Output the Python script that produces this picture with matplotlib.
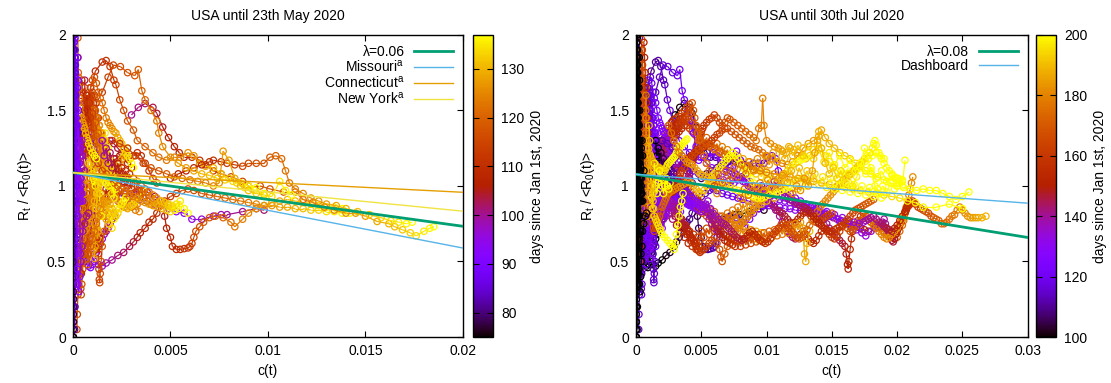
import numpy as np
import matplotlib
matplotlib.use("Agg")
import matplotlib.pyplot as plt
from matplotlib.collections import LineCollection
from matplotlib.colors import Normalize
from matplotlib.cm import ScalarMappable

plt.rcParams["font.family"] = ["Liberation Sans", "DejaVu Sans"]
plt.rcParams["mathtext.fontset"] = "custom"
plt.rcParams["mathtext.rm"] = "Liberation Sans"

# ---------------------------------------------------------------------------
# data: state trajectories (c(t), R_t/<R0>), one point per day.
# each state: (last day shown in the May panel, points up to that day,
#              continuation points up to end of July)
# ---------------------------------------------------------------------------
band_a = [(0.00001, 0.0), (0.00001, 0.05), (0.00002, 0.15), (0.00002, 0.3), (0.00003, 0.5),
          (0.00003, 0.8), (0.00004, 1.1), (0.00004, 1.4), (0.00005, 1.7), (0.00005, 1.95),
          (0.00006, 1.8), (0.00007, 1.6), (0.00008, 1.45), (0.0001, 1.3), (0.00012, 1.2)]
band_b = [(0.00002, 0.0), (0.00002, 0.1), (0.00003, 0.2), (0.00003, 0.35), (0.00004, 0.6),
          (0.00005, 0.9), (0.00006, 1.25), (0.00007, 1.6), (0.00008, 1.9), (0.00009, 2.0),
          (0.00011, 1.85), (0.00013, 1.65), (0.00015, 1.5), (0.00018, 1.35), (0.0002, 1.25),
          (0.00023, 1.15), (0.00026, 1.1)]
band_c = [(0.00001, 0.2), (0.00002, 0.4), (0.00003, 0.7), (0.00004, 1.0), (0.00005, 1.3),
          (0.00006, 1.55), (0.00007, 1.75), (0.00008, 1.9), (0.0001, 1.98), (0.00012, 1.8),
          (0.00014, 1.6), (0.00016, 1.45), (0.00019, 1.3), (0.00022, 1.2), (0.00026, 1.1),
          (0.0003, 1.02), (0.00035, 0.95), (0.0004, 0.9)]
band_d = [(0.00003, 1.9), (0.00004, 1.75), (0.00005, 1.6), (0.00006, 1.45), (0.00007, 1.3),
          (0.00008, 1.15), (0.00009, 1.0), (0.0001, 0.85), (0.00011, 0.7), (0.00012, 0.55),
          (0.00013, 0.42), (0.00015, 0.35), (0.00017, 0.42), (0.0002, 0.55), (0.00023, 0.68),
          (0.00026, 0.8), (0.0003, 0.9), (0.00035, 0.98), (0.0004, 1.05)]
band_e = [(0.00002, 1.5), (0.00003, 1.65), (0.00004, 1.8), (0.00005, 1.95), (0.00007, 1.85),
          (0.00009, 1.7), (0.00011, 1.55), (0.00013, 1.42), (0.00015, 1.3), (0.00018, 1.2),
          (0.00021, 1.12), (0.00025, 1.05), (0.0003, 1.0), (0.00035, 0.97), (0.0004, 0.95)]
band_f = [(0.00008, 0.05), (0.0001, 0.2), (0.00012, 0.4), (0.00014, 0.65), (0.00016, 0.9),
          (0.00018, 1.15), (0.0002, 1.4), (0.00022, 1.65), (0.00024, 1.85), (0.00026, 1.7),
          (0.00028, 1.5), (0.0003, 1.3), (0.00032, 1.1), (0.00034, 0.9), (0.00036, 0.7),
          (0.00038, 0.55)]
early_f = [(0.00001, 0.0), (0.00001, 0.3), (0.00002, 0.6), (0.00002, 1.2), (0.00003, 1.9),
           (0.00004, 2.0), (0.00005, 1.7), (0.00006, 1.5), (0.00008, 1.3), (0.0001, 1.8),
           (0.00012, 1.6), (0.00014, 1.4), (0.00016, 1.2), (0.00018, 1.0), (0.0002, 0.9),
           (0.00022, 1.1)]
early_g = [(0.00002, 0.1), (0.00003, 0.25), (0.00004, 0.45), (0.00005, 0.8), (0.00006, 1.0),
           (0.00007, 1.35), (0.00008, 1.6), (0.0001, 1.9), (0.00012, 1.75), (0.00015, 1.55),
           (0.00018, 1.35), (0.00022, 1.25), (0.00026, 1.15), (0.0003, 1.1), (0.00035, 1.05),
           (0.0004, 1.0), (0.00045, 0.95), (0.0005, 0.9)]
early_h = [(0.00001, 0.5), (0.00002, 0.7), (0.00003, 0.9), (0.00004, 1.1), (0.00005, 1.3),
           (0.00006, 1.5), (0.00007, 1.7), (0.00008, 1.85), (0.0001, 1.7), (0.00012, 1.5),
           (0.00015, 1.3), (0.00018, 1.2), (0.0002, 1.3), (0.00025, 1.4), (0.0003, 1.3),
           (0.00035, 1.2), (0.0004, 1.25), (0.00045, 1.3), (0.0005, 1.2), (0.0006, 1.1)]
early_i = [(0.00005, 2.0), (0.00007, 1.8), (0.0001, 1.6), (0.00012, 1.4), (0.00014, 1.2),
           (0.00016, 1.0), (0.00018, 0.8), (0.0002, 0.6), (0.00022, 0.45), (0.00025, 0.35),
           (0.0003, 0.3), (0.00035, 0.4), (0.0004, 0.5), (0.00045, 0.6), (0.0005, 0.7),
           (0.0006, 0.75), (0.0007, 0.8), (0.0008, 0.82)]
purple_flat = [(0.0010, 1.10), (0.0014, 1.05), (0.0018, 1.00), (0.0022, 0.98), (0.0026, 0.95),
               (0.0030, 0.93), (0.0034, 0.91), (0.0038, 0.90), (0.0042, 0.88), (0.0045, 0.87),
               (0.0049, 0.85), (0.0053, 0.83), (0.0057, 0.82), (0.0061, 0.78), (0.0066, 0.78),
               (0.0072, 0.80), (0.0076, 0.81), (0.0079, 0.81), (0.0087, 0.83), (0.0094, 0.85),
               (0.0098, 0.84)]
purple_mid = [(0.0003, 1.3), (0.0004, 1.35), (0.0005, 1.38), (0.0006, 1.4), (0.0007, 1.38),
              (0.0008, 1.35), (0.0009, 1.32), (0.001, 1.3), (0.0011, 1.28), (0.0012, 1.25),
              (0.0013, 1.22), (0.0014, 1.2), (0.0016, 1.18), (0.0018, 1.16), (0.002, 1.15),
              (0.0022, 1.18), (0.0024, 1.2), (0.0026, 1.18), (0.0028, 1.15), (0.003, 1.12)]
purple_low = [(0.0002, 0.9), (0.0003, 0.8), (0.0004, 0.7), (0.0005, 0.62), (0.0006, 0.55),
              (0.0007, 0.5), (0.0008, 0.47), (0.0009, 0.46), (0.001, 0.48), (0.0011, 0.52),
              (0.0012, 0.56), (0.0013, 0.6), (0.0014, 0.62), (0.0015, 0.65), (0.0016, 0.68),
              (0.0017, 0.7), (0.0018, 0.72), (0.0019, 0.75), (0.002, 0.78), (0.0021, 0.8)]
purple_hump = [(0.0005, 1.0), (0.0007, 1.05), (0.0009, 1.1), (0.0011, 1.15), (0.0013, 1.2),
               (0.0015, 1.25), (0.0017, 1.28), (0.0019, 1.3), (0.0021, 1.28), (0.0023, 1.25),
               (0.0025, 1.22), (0.0027, 1.2), (0.0029, 1.18), (0.0031, 1.2), (0.0033, 1.22),
               (0.0035, 1.2), (0.0037, 1.15), (0.0039, 1.1), (0.0041, 1.05), (0.0043, 1.02)]
purple_zig = [(0.0001, 1.4), (0.00013, 1.2), (0.00016, 1.35), (0.0002, 1.1), (0.00024, 1.25),
              (0.00028, 1.0), (0.00032, 1.15), (0.00036, 0.9), (0.0004, 1.05), (0.00044, 0.85),
              (0.00048, 0.98), (0.00052, 0.8), (0.00056, 0.92), (0.0006, 0.75), (0.00065, 0.88),
              (0.0007, 0.7), (0.00075, 0.82), (0.0008, 0.68), (0.00085, 0.78), (0.0009, 0.65),
              (0.00095, 0.75), (0.001, 0.62), (0.00105, 0.72), (0.0011, 0.6), (0.00115, 0.7),
              (0.0012, 0.58), (0.00125, 0.68), (0.0013, 0.6), (0.00135, 0.66), (0.0014, 0.62)]
purple_upper = [(0.0002, 1.45), (0.00025, 1.35), (0.0003, 1.42), (0.0004, 1.3), (0.0005, 1.38),
                (0.0006, 1.25), (0.0007, 1.32), (0.0008, 1.2), (0.0009, 1.28), (0.001, 1.18),
                (0.0011, 1.25), (0.0012, 1.15), (0.0013, 1.22), (0.0014, 1.12), (0.0015, 1.2),
                (0.0016, 1.1), (0.0017, 1.18), (0.0018, 1.08), (0.0019, 1.15), (0.002, 1.06),
                (0.0021, 1.12), (0.0022, 1.05), (0.0023, 1.1), (0.0024, 1.04), (0.0025, 1.08),
                (0.0026, 1.03), (0.0027, 1.06), (0.0028, 1.02)]

new_york = [(0.0030, 1.47), (0.00335, 1.52), (0.0037, 1.545), (0.0041, 1.52), (0.0043, 1.48),
            (0.0046, 1.39), (0.0049, 1.32), (0.0052, 1.26), (0.00545, 1.22), (0.0057, 1.19),
            (0.0061, 1.19), (0.0065, 1.17), (0.0068, 1.14), (0.0072, 1.10), (0.0076, 1.08),
            (0.0081, 1.06), (0.0087, 1.03), (0.0090, 1.00), (0.0096, 1.00), (0.0101, 0.98),
            (0.0108, 0.96), (0.0114, 0.96), (0.0118, 0.91), (0.0123, 0.89), (0.0129, 0.86),
            (0.0134, 0.84), (0.0140, 0.82), (0.0145, 0.82), (0.0150, 0.80), (0.0156, 0.765),
            (0.0162, 0.75), (0.0165, 0.73), (0.0169, 0.71), (0.0173, 0.69), (0.0176, 0.67),
            (0.0180, 0.70), (0.0183, 0.72), (0.0185, 0.73)]
new_york_jul = [(0.0187, 0.74), (0.0189, 0.76), (0.019, 0.78), (0.0191, 0.75), (0.0192, 0.72),
                (0.0193, 0.70), (0.0194, 0.68), (0.0195, 0.66), (0.0196, 0.64), (0.0197, 0.63),
                (0.0198, 0.65), (0.0199, 0.68), (0.02, 0.70), (0.0201, 0.72), (0.0202, 0.74),
                (0.0203, 0.76), (0.0204, 0.78), (0.0205, 0.80), (0.0206, 0.82), (0.0207, 0.84),
                (0.0208, 0.86), (0.0209, 0.87), (0.021, 0.88), (0.0211, 0.89), (0.0212, 0.90),
                (0.0214, 0.88), (0.0216, 0.86), (0.0218, 0.85), (0.022, 0.84), (0.0222, 0.83),
                (0.0224, 0.82), (0.0226, 0.80), (0.0228, 0.79), (0.023, 0.78), (0.0232, 0.77),
                (0.0234, 0.75), (0.0236, 0.75), (0.0238, 0.76), (0.024, 0.78), (0.0242, 0.80),
                (0.0244, 0.81), (0.0246, 0.84), (0.0248, 0.86), (0.025, 0.84), (0.0252, 0.82),
                (0.0254, 0.80), (0.0256, 0.79), (0.0258, 0.79), (0.026, 0.79), (0.0262, 0.79),
                (0.0265, 0.79), (0.0268, 0.80)]
peak_red = [(0.0009, 1.65), (0.00115, 1.76), (0.0015, 1.82), (0.0017, 1.83), (0.0019, 1.79),
            (0.0021, 1.70), (0.0022, 1.67), (0.0024, 1.57), (0.0026, 1.50), (0.0028, 1.43),
            (0.0031, 1.37), (0.0033, 1.30), (0.0037, 1.26), (0.0041, 1.22), (0.0044, 1.19),
            (0.0048, 1.17), (0.0052, 1.19), (0.0055, 1.19), (0.0059, 1.22), (0.0062, 1.20),
            (0.0065, 1.15), (0.0068, 1.13), (0.0072, 1.12), (0.0076, 1.08), (0.0080, 1.05),
            (0.0084, 1.02), (0.0088, 0.99), (0.0093, 0.97), (0.0098, 0.95)]
peak_red_jul = [(0.0101, 0.92), (0.0104, 0.88), (0.0107, 0.84), (0.011, 0.80), (0.0112, 0.76),
                (0.0114, 0.72), (0.0116, 0.70), (0.0118, 0.68), (0.012, 0.66), (0.0122, 0.65),
                (0.0124, 0.66), (0.0126, 0.68), (0.0128, 0.70), (0.013, 0.68), (0.0132, 0.65),
                (0.0134, 0.63), (0.0136, 0.62), (0.0138, 0.64), (0.014, 0.67), (0.0142, 0.70),
                (0.0144, 0.72), (0.0146, 0.70), (0.0148, 0.68), (0.015, 0.66), (0.0152, 0.65),
                (0.0154, 0.67), (0.0156, 0.70), (0.0158, 0.73), (0.016, 0.75), (0.0162, 0.72),
                (0.0164, 0.70), (0.0166, 0.71), (0.0168, 0.73), (0.017, 0.75), (0.0172, 0.77),
                (0.0174, 0.79), (0.0176, 0.80), (0.0178, 0.78), (0.018, 0.76), (0.0182, 0.74),
                (0.0184, 0.72), (0.0186, 0.70), (0.0188, 0.68), (0.019, 0.66), (0.0192, 0.65),
                (0.0194, 0.66), (0.0196, 0.68), (0.0198, 0.70), (0.02, 0.72), (0.0202, 0.75),
                (0.0204, 0.78), (0.0205, 0.80)]
peak_orange = [(0.0012, 1.55), (0.0015, 1.62), (0.0018, 1.72), (0.00207, 1.80), (0.00243, 1.79),
               (0.0028, 1.75), (0.00317, 1.73), (0.00335, 1.77), (0.00353, 1.63), (0.0037, 1.57),
               (0.0040, 1.50), (0.0043, 1.43), (0.0044, 1.35), (0.0046, 1.26), (0.0050, 1.19),
               (0.0054, 1.15), (0.0058, 1.12), (0.0062, 1.10), (0.0066, 1.08), (0.0070, 1.07),
               (0.0074, 1.05), (0.0078, 1.04), (0.0082, 1.03), (0.0086, 1.02), (0.0090, 1.00),
               (0.0094, 0.99)]
peak_orange_jul = [(0.0096, 0.97), (0.0098, 0.95), (0.01, 0.93), (0.0102, 0.9), (0.0104, 0.88),
                   (0.0106, 0.86), (0.0108, 0.84), (0.011, 0.83), (0.0112, 0.82), (0.0114, 0.80),
                   (0.0116, 0.78), (0.0118, 0.76), (0.012, 0.75), (0.0122, 0.76), (0.0124, 0.78),
                   (0.0126, 0.80), (0.0128, 0.82), (0.013, 0.83), (0.0132, 0.82), (0.0134, 0.80),
                   (0.0136, 0.78), (0.0138, 0.76), (0.014, 0.75), (0.0142, 0.77), (0.0144, 0.79),
                   (0.0146, 0.8), (0.0148, 0.81), (0.015, 0.82)]
bump = [(0.0050, 1.05), (0.0054, 1.08), (0.0058, 1.10), (0.0062, 1.12), (0.0066, 1.14),
        (0.0070, 1.16), (0.0072, 1.17), (0.0076, 1.16), (0.0079, 1.15), (0.0083, 1.14),
        (0.0087, 1.13), (0.0090, 1.15), (0.0094, 1.15), (0.0098, 1.15), (0.0101, 1.19),
        (0.0104, 1.20), (0.0107, 1.18), (0.0109, 1.10), (0.0111, 1.02), (0.0114, 0.98),
        (0.0118, 0.95), (0.0122, 0.92), (0.0126, 0.90), (0.0130, 0.88), (0.0135, 0.87),
        (0.0140, 0.85), (0.0146, 0.83), (0.0152, 0.81), (0.0158, 0.79), (0.0163, 0.77),
        (0.0167, 0.76), (0.0171, 0.75), (0.0174, 0.76)]
bump_jul = [(0.0176, 0.77), (0.0178, 0.78), (0.018, 0.79), (0.0182, 0.8), (0.0184, 0.78),
            (0.0186, 0.76), (0.0188, 0.75), (0.019, 0.73), (0.0192, 0.72), (0.0194, 0.71),
            (0.0196, 0.70), (0.0198, 0.72), (0.02, 0.74), (0.0202, 0.77), (0.0204, 0.8),
            (0.0206, 0.83), (0.0207, 0.85), (0.0208, 0.87), (0.0209, 0.89)]
rising = [(0.0009, 0.55), (0.0011, 0.50), (0.0013, 0.48), (0.0015, 0.47), (0.0017, 0.49),
          (0.0020, 0.51), (0.0023, 0.54), (0.0026, 0.56), (0.0029, 0.60), (0.0031, 0.63),
          (0.0033, 0.66), (0.00345, 0.69), (0.0037, 0.72), (0.0039, 0.76), (0.0041, 0.78),
          (0.0043, 0.82), (0.0045, 0.87), (0.0047, 0.90), (0.0050, 0.93), (0.0053, 0.95),
          (0.0056, 0.97), (0.0059, 0.98), (0.0062, 0.97), (0.0066, 0.95), (0.0070, 0.94),
          (0.0074, 0.93), (0.0078, 0.92), (0.0082, 0.91), (0.0086, 0.90), (0.0090, 0.89),
          (0.0094, 0.88), (0.0098, 0.87), (0.0102, 0.87), (0.0106, 0.86), (0.0110, 0.86),
          (0.0114, 0.85), (0.0118, 0.85), (0.0122, 0.84), (0.0126, 0.84), (0.0130, 0.83),
          (0.0134, 0.83), (0.0138, 0.82), (0.0142, 0.82)]
rising_jul = [(0.0145, 0.81), (0.0148, 0.80), (0.0151, 0.79), (0.0154, 0.78), (0.0157, 0.77),
              (0.016, 0.76), (0.0163, 0.75), (0.0166, 0.74), (0.0169, 0.73), (0.0172, 0.72),
              (0.0175, 0.71), (0.0178, 0.70)]
u_dip = [(0.0030, 0.95), (0.0034, 0.97), (0.0038, 0.96), (0.0042, 0.93), (0.0046, 0.88),
         (0.0047, 0.80), (0.0048, 0.72), (0.0050, 0.66), (0.0051, 0.60), (0.0053, 0.58),
         (0.0055, 0.58), (0.0057, 0.585), (0.0059, 0.59), (0.0060, 0.60), (0.0061, 0.62),
         (0.0062, 0.66), (0.0063, 0.70), (0.0065, 0.73), (0.0067, 0.76), (0.0070, 0.79),
         (0.0073, 0.80), (0.0077, 0.79), (0.0081, 0.76), (0.0083, 0.73), (0.0087, 0.78),
         (0.0090, 0.82), (0.0094, 0.85), (0.0098, 0.87), (0.0102, 0.89), (0.0106, 0.90),
         (0.0110, 0.91), (0.0114, 0.90), (0.0118, 0.89), (0.0122, 0.88), (0.0126, 0.87),
         (0.0130, 0.86), (0.0134, 0.86), (0.0138, 0.85)]
u_dip_jul = [(0.014, 0.83), (0.0142, 0.8), (0.0144, 0.78), (0.0146, 0.75), (0.0148, 0.72),
             (0.015, 0.7), (0.0152, 0.68), (0.0154, 0.66), (0.0156, 0.64), (0.0158, 0.62),
             (0.016, 0.6), (0.0161, 0.55), (0.0162, 0.48), (0.01625, 0.45), (0.0163, 0.5),
             (0.0164, 0.58), (0.0165, 0.65), (0.0166, 0.7), (0.0168, 0.74), (0.017, 0.77),
             (0.0172, 0.8), (0.0174, 0.82), (0.0176, 0.80), (0.0178, 0.78), (0.018, 0.76),
             (0.0182, 0.75), (0.0184, 0.74), (0.0186, 0.73), (0.0188, 0.72), (0.019, 0.7),
             (0.0192, 0.68), (0.0194, 0.67), (0.0196, 0.66), (0.0198, 0.65), (0.02, 0.66),
             (0.0202, 0.70), (0.0204, 0.74), (0.0205, 0.77), (0.0206, 0.82), (0.0207, 0.86),
             (0.0208, 0.9), (0.0209, 0.94), (0.021, 0.98), (0.0211, 1.02), (0.0212, 1.06)]
yellow_low = [(0.0005, 1.20), (0.0007, 1.25), (0.0009, 1.22), (0.0011, 1.18), (0.0013, 1.15),
              (0.0015, 1.10), (0.0017, 1.08), (0.0019, 1.05), (0.0021, 1.02), (0.0023, 1.00),
              (0.0025, 0.98), (0.0027, 0.97), (0.0029, 0.95), (0.0031, 0.93), (0.0033, 0.92),
              (0.0035, 0.90), (0.0037, 0.89), (0.0039, 0.88), (0.0041, 0.87), (0.0043, 0.88),
              (0.0045, 0.90), (0.0047, 0.89), (0.0049, 0.87), (0.0051, 0.86), (0.0053, 0.88),
              (0.0055, 0.90), (0.0057, 0.85), (0.0059, 0.82)]
yellow_low_jul = [(0.0061, 0.8), (0.0063, 0.78), (0.0065, 0.76), (0.0067, 0.75), (0.0069, 0.74),
                  (0.0071, 0.72), (0.0073, 0.70), (0.0075, 0.68), (0.0077, 0.66), (0.0079, 0.65),
                  (0.0081, 0.64), (0.0083, 0.65), (0.0085, 0.67), (0.0087, 0.69), (0.0089, 0.7),
                  (0.0091, 0.68), (0.0093, 0.66), (0.0095, 0.64), (0.0097, 0.63), (0.0099, 0.62),
                  (0.0101, 0.63), (0.0103, 0.65), (0.0105, 0.68), (0.0107, 0.70), (0.0109, 0.72),
                  (0.0111, 0.74), (0.0113, 0.75), (0.0115, 0.74), (0.0117, 0.72), (0.0119, 0.70),
                  (0.0121, 0.68), (0.0123, 0.66), (0.0125, 0.65), (0.0127, 0.66), (0.0129, 0.68),
                  (0.0131, 0.71), (0.0133, 0.74), (0.0135, 0.77), (0.0137, 0.80), (0.0139, 0.83),
                  (0.0141, 0.86), (0.0143, 0.88), (0.0145, 0.9), (0.0147, 0.92), (0.0149, 0.94),
                  (0.0151, 0.96), (0.0153, 0.98), (0.0155, 1.0), (0.0157, 1.02), (0.0159, 1.04),
                  (0.0161, 1.05), (0.0163, 1.07), (0.0165, 1.08), (0.0167, 1.1), (0.0169, 1.12),
                  (0.0171, 1.14), (0.0173, 1.16), (0.0175, 1.18), (0.0177, 1.2), (0.0179, 1.22),
                  (0.0181, 1.25), (0.0182, 1.28), (0.0183, 1.30), (0.0184, 1.27), (0.0186, 1.22),
                  (0.0188, 1.18), (0.019, 1.15), (0.0192, 1.12), (0.0194, 1.1), (0.0196, 1.08),
                  (0.0198, 1.06), (0.02, 1.05), (0.0202, 1.04), (0.0204, 1.03)]
yellow_spike = [(0.0020, 1.30), (0.0024, 1.28), (0.0028, 1.25), (0.0032, 1.20), (0.0036, 1.15),
                (0.0040, 1.12), (0.0044, 1.10), (0.0048, 1.08), (0.0052, 1.06), (0.0056, 1.05),
                (0.0060, 1.04), (0.0064, 1.03), (0.0068, 1.02), (0.0072, 1.00), (0.0075, 1.02),
                (0.0077, 1.23), (0.0080, 1.17), (0.0083, 1.05), (0.0086, 1.00), (0.0090, 0.97),
                (0.0094, 0.95), (0.0098, 0.94), (0.0102, 0.93), (0.0106, 1.03), (0.0109, 0.97),
                (0.0112, 0.94)]
yellow_spike_jul = [(0.0114, 0.93), (0.0116, 0.92), (0.0118, 0.91), (0.012, 0.9), (0.0122, 0.89),
                    (0.0124, 0.88), (0.0126, 0.87), (0.0128, 0.86), (0.013, 0.85), (0.0132, 0.84),
                    (0.0134, 0.82), (0.0136, 0.80), (0.0138, 0.78), (0.014, 0.76), (0.0142, 0.74),
                    (0.0144, 0.72), (0.0146, 0.71), (0.0148, 0.70), (0.015, 0.70), (0.0152, 0.71),
                    (0.0154, 0.72), (0.0156, 0.73), (0.0158, 0.74), (0.016, 0.76), (0.0162, 0.78),
                    (0.0164, 0.80), (0.0166, 0.82), (0.0168, 0.84), (0.017, 0.85), (0.0172, 0.86),
                    (0.0174, 0.87), (0.0176, 0.88), (0.0178, 0.89), (0.018, 0.90), (0.0182, 0.91)]
late_climb = [(0.0002, 0.05), (0.00022, 0.15), (0.00025, 0.28), (0.00028, 0.35), (0.0003, 0.42),
              (0.00033, 0.5), (0.00036, 0.6), (0.0004, 0.7), (0.00045, 0.8), (0.0005, 0.85),
              (0.00055, 0.9), (0.0006, 0.95), (0.00065, 1.0), (0.0007, 1.05), (0.00075, 1.1),
              (0.0008, 1.15), (0.00085, 1.2), (0.0009, 1.15), (0.00095, 1.1), (0.001, 1.08),
              (0.00105, 1.05), (0.0011, 1.03), (0.00115, 1.0)]
tall_red = [(0.0004, 0.75), (0.0005, 0.9), (0.0006, 1.1), (0.0007, 1.3), (0.0008, 1.45),
            (0.0009, 1.55), (0.001, 1.62), (0.0011, 1.6), (0.0012, 1.55), (0.0013, 1.45),
            (0.0014, 1.35), (0.0015, 1.25), (0.0016, 1.2), (0.0017, 1.15), (0.0018, 1.1),
            (0.0019, 1.05), (0.002, 1.0), (0.0021, 0.95), (0.0022, 0.92), (0.0023, 0.9),
            (0.0024, 0.88), (0.0025, 0.87), (0.0026, 0.86), (0.0027, 0.86), (0.0028, 0.85),
            (0.0029, 0.86), (0.003, 0.87), (0.0031, 0.88), (0.0032, 0.9), (0.0033, 0.92),
            (0.0034, 0.93), (0.0035, 0.95), (0.0036, 0.97)]
tall_red_jul = [(0.0037, 0.98), (0.0038, 1.0), (0.0039, 1.02), (0.0039, 1.04), (0.004, 1.06),
                (0.0041, 1.08), (0.0041, 1.1), (0.0042, 1.12), (0.0043, 1.14), (0.0043, 1.16),
                (0.0044, 1.18), (0.0045, 1.2), (0.0045, 1.22), (0.0046, 1.24), (0.0047, 1.26),
                (0.0047, 1.28), (0.0048, 1.3), (0.0049, 1.32), (0.0049, 1.34), (0.005, 1.36),
                (0.0051, 1.38), (0.0052, 1.4), (0.0054, 1.42), (0.0056, 1.44), (0.0058, 1.45),
                (0.006, 1.47), (0.0062, 1.45), (0.0064, 1.42), (0.0066, 1.4), (0.0068, 1.42),
                (0.007, 1.45), (0.0072, 1.44), (0.0075, 1.42), (0.0078, 1.4), (0.0081, 1.38),
                (0.0084, 1.36), (0.0087, 1.34), (0.009, 1.32), (0.0092, 1.3), (0.0094, 1.38),
                (0.0096, 1.4), (0.0097, 1.58), (0.0098, 1.4), (0.01, 1.3), (0.0103, 1.28),
                (0.0106, 1.26), (0.0109, 1.25), (0.0112, 1.23), (0.0115, 1.22), (0.0118, 1.25),
                (0.0121, 1.24), (0.0124, 1.22), (0.0127, 1.2), (0.013, 1.18), (0.0133, 1.2),
                (0.0136, 1.24), (0.0139, 1.27), (0.0142, 1.25), (0.0145, 1.2), (0.0148, 1.16),
                (0.0151, 1.13), (0.0154, 1.1), (0.0157, 1.08), (0.016, 1.07), (0.0163, 1.08),
                (0.0166, 1.1), (0.0169, 1.12), (0.0172, 1.14), (0.0175, 1.16), (0.0178, 1.18),
                (0.0181, 1.2), (0.0184, 1.22), (0.0187, 1.2), (0.019, 1.18)]
deep_dip = [(0.0008, 1.3), (0.0009, 1.2), (0.001, 1.1), (0.0011, 0.95), (0.0012, 0.8),
            (0.00125, 0.65), (0.0013, 0.55), (0.00133, 0.45), (0.00135, 0.38), (0.00137, 0.36),
            (0.0014, 0.42), (0.00145, 0.5), (0.0015, 0.6), (0.0016, 0.7), (0.0017, 0.8),
            (0.0018, 0.9), (0.0019, 0.95), (0.002, 1.0), (0.0021, 1.05), (0.0022, 1.1),
            (0.0023, 1.12), (0.0024, 1.15), (0.0025, 1.18), (0.0026, 1.2), (0.0027, 1.22),
            (0.0028, 1.25)]
orange_dive = [(0.0003, 1.0), (0.00032, 0.85), (0.00034, 0.7), (0.00036, 0.55), (0.00038, 0.42),
               (0.0004, 0.32), (0.00042, 0.28), (0.00045, 0.35), (0.0005, 0.45), (0.00055, 0.55),
               (0.0006, 0.62), (0.00065, 0.7), (0.0007, 0.78), (0.00075, 0.85), (0.0008, 0.9),
               (0.0009, 0.95), (0.001, 1.0), (0.0011, 1.05), (0.0012, 1.1), (0.0013, 1.12),
               (0.0014, 1.15), (0.0015, 1.13), (0.0016, 1.1), (0.0017, 1.08), (0.0018, 1.06),
               (0.0019, 1.05), (0.002, 1.04), (0.0021, 1.03)]
yellow_top = [(0.00025, 1.98), (0.00026, 1.85), (0.00027, 1.75), (0.00028, 1.72), (0.0003, 1.65),
              (0.00033, 1.58), (0.00036, 1.52), (0.0004, 1.48), (0.00045, 1.45), (0.0005, 1.42),
              (0.00055, 1.40), (0.0006, 1.38), (0.00065, 1.35), (0.0007, 1.32), (0.00075, 1.30),
              (0.0008, 1.28), (0.0009, 1.25), (0.001, 1.22), (0.0011, 1.20), (0.0012, 1.18)]
yellow_top_jul = [(0.0013, 1.15), (0.0014, 1.12), (0.0015, 1.1), (0.0016, 1.08), (0.0017, 1.06),
                  (0.0018, 1.05), (0.0019, 1.04), (0.002, 1.03), (0.0021, 1.02), (0.0022, 1.01),
                  (0.0023, 1.0), (0.0024, 0.99), (0.0025, 0.98), (0.0026, 0.97), (0.0027, 0.96),
                  (0.0028, 0.96), (0.0029, 0.97), (0.003, 0.98), (0.0031, 1.0), (0.0032, 1.02),
                  (0.0033, 1.05), (0.0034, 1.08), (0.0035, 1.1), (0.0037, 1.12), (0.0039, 1.15),
                  (0.0041, 1.18), (0.0043, 1.2), (0.0045, 1.22), (0.0048, 1.24), (0.0051, 1.26),
                  (0.0054, 1.28), (0.0057, 1.27), (0.006, 1.25), (0.0064, 1.23), (0.0068, 1.21),
                  (0.0072, 1.19), (0.0076, 1.17), (0.008, 1.15), (0.0085, 1.13), (0.009, 1.11),
                  (0.0095, 1.1), (0.01, 1.09), (0.0106, 1.08), (0.0112, 1.07), (0.0118, 1.06),
                  (0.0124, 1.05), (0.013, 1.04), (0.0136, 1.03), (0.0142, 1.02), (0.0148, 1.01),
                  (0.0154, 1.0), (0.016, 0.99), (0.0166, 0.98), (0.0172, 0.97), (0.0178, 0.96),
                  (0.0184, 0.95), (0.019, 0.94), (0.0196, 0.93), (0.0202, 0.92), (0.0208, 0.9),
                  (0.0214, 0.89), (0.022, 0.86), (0.023, 0.86), (0.024, 0.88), (0.025, 0.85)]
high_slide = [(0.0006, 1.5), (0.0007, 1.55), (0.0008, 1.6), (0.0009, 1.65), (0.001, 1.7),
              (0.0011, 1.72), (0.0012, 1.68), (0.0013, 1.62), (0.0014, 1.58), (0.0015, 1.55),
              (0.0016, 1.5), (0.0017, 1.45), (0.0018, 1.42), (0.0019, 1.4), (0.002, 1.38),
              (0.0021, 1.36), (0.0022, 1.35), (0.0023, 1.32), (0.0024, 1.3), (0.0025, 1.28),
              (0.0026, 1.25), (0.0027, 1.22), (0.0028, 1.2), (0.0029, 1.18), (0.003, 1.15),
              (0.0031, 1.12)]
high_slide_jul = [(0.0032, 1.12), (0.0033, 1.12), (0.0034, 1.13), (0.0035, 1.14), (0.0036, 1.15),
                  (0.0037, 1.16), (0.0038, 1.17), (0.0039, 1.18), (0.004, 1.18), (0.0041, 1.19),
                  (0.0042, 1.2), (0.0043, 1.2), (0.0044, 1.21), (0.0045, 1.22), (0.0046, 1.22),
                  (0.0047, 1.23), (0.0048, 1.24), (0.0049, 1.24), (0.005, 1.25), (0.0052, 1.26),
                  (0.0054, 1.27), (0.0056, 1.28), (0.0058, 1.3), (0.006, 1.32), (0.0062, 1.34),
                  (0.0064, 1.35), (0.0066, 1.37), (0.0068, 1.38), (0.007, 1.38), (0.0073, 1.36),
                  (0.0076, 1.34), (0.0079, 1.32), (0.0082, 1.3), (0.0085, 1.28), (0.0088, 1.26),
                  (0.0091, 1.25), (0.0094, 1.24), (0.0097, 1.22), (0.01, 1.2), (0.0104, 1.18),
                  (0.0108, 1.16), (0.0112, 1.15), (0.0116, 1.14), (0.012, 1.16), (0.0124, 1.2),
                  (0.0128, 1.25), (0.0132, 1.28), (0.0136, 1.3), (0.014, 1.33), (0.0142, 1.37),
                  (0.0145, 1.32), (0.0148, 1.28), (0.0152, 1.25), (0.0156, 1.22), (0.016, 1.2),
                  (0.0164, 1.18), (0.0168, 1.15), (0.0172, 1.13), (0.0176, 1.1), (0.018, 1.08),
                  (0.0185, 1.06), (0.019, 1.04), (0.0195, 1.02), (0.02, 1.0), (0.0205, 0.99),
                  (0.021, 0.98), (0.0215, 0.97), (0.022, 0.98), (0.0225, 0.97), (0.023, 0.97),
                  (0.0235, 0.95), (0.024, 0.93), (0.0245, 0.91), (0.025, 0.93), (0.0255, 0.96)]
orange_low = [(0.0005, 0.6), (0.0006, 0.55), (0.0007, 0.52), (0.0008, 0.55), (0.0009, 0.6),
              (0.001, 0.65), (0.0011, 0.7), (0.0012, 0.75), (0.0013, 0.8), (0.0014, 0.85),
              (0.0015, 0.88), (0.0016, 0.9), (0.0017, 0.92), (0.0018, 0.9), (0.0019, 0.88),
              (0.002, 0.85), (0.0021, 0.82), (0.0022, 0.8), (0.0023, 0.82), (0.0024, 0.85),
              (0.0025, 0.88), (0.0026, 0.9), (0.0027, 0.92)]
orange_low_jul = [(0.0028, 0.9), (0.0029, 0.88), (0.003, 0.86), (0.0031, 0.84), (0.0032, 0.82),
                  (0.0033, 0.8), (0.0034, 0.78), (0.0035, 0.76), (0.0036, 0.75), (0.0037, 0.74),
                  (0.0038, 0.73), (0.0039, 0.72), (0.004, 0.7), (0.0041, 0.68), (0.0042, 0.66),
                  (0.0043, 0.65), (0.0044, 0.64), (0.0045, 0.62), (0.0046, 0.6), (0.0047, 0.58),
                  (0.0048, 0.57), (0.0049, 0.56), (0.005, 0.57), (0.0052, 0.58), (0.0054, 0.6),
                  (0.0056, 0.62), (0.0058, 0.64), (0.006, 0.66), (0.0062, 0.62), (0.0064, 0.58),
                  (0.0065, 0.53), (0.0066, 0.5), (0.0068, 0.55), (0.007, 0.6), (0.0072, 0.65),
                  (0.0074, 0.68), (0.0076, 0.7), (0.0078, 0.72), (0.008, 0.74), (0.0082, 0.76),
                  (0.0084, 0.78), (0.0086, 0.8), (0.0088, 0.82), (0.009, 0.84), (0.0092, 0.86),
                  (0.0094, 0.88), (0.0096, 0.9), (0.0098, 0.92), (0.01, 0.94), (0.0102, 0.96),
                  (0.0104, 0.98), (0.0106, 1.0), (0.0108, 1.02), (0.011, 1.04), (0.0112, 1.06),
                  (0.0114, 1.08), (0.0116, 1.1), (0.0118, 1.12), (0.012, 1.14), (0.0122, 1.15),
                  (0.0124, 1.16), (0.0126, 1.17), (0.0128, 1.18), (0.013, 1.19)]
yellow_young = [(0.0003, 0.55), (0.0004, 0.6), (0.0005, 0.65), (0.0006, 0.7), (0.0007, 0.72),
                (0.0008, 0.75), (0.0009, 0.8), (0.001, 0.85), (0.0011, 0.9), (0.0012, 0.95),
                (0.0013, 1.0), (0.0014, 1.02), (0.0015, 1.05), (0.0016, 1.04), (0.0017, 1.02),
                (0.0018, 1.0)]
zig_upper = [(0.0002, 0.9), (0.00025, 1.05), (0.0003, 0.95), (0.00035, 1.15), (0.0004, 1.3),
             (0.00045, 1.2), (0.0005, 1.4), (0.00055, 1.3), (0.0006, 1.5), (0.00065, 1.45),
             (0.0007, 1.6), (0.00075, 1.5), (0.0008, 1.42), (0.00085, 1.55), (0.0009, 1.45),
             (0.00095, 1.35), (0.001, 1.48), (0.00105, 1.38), (0.0011, 1.3), (0.00115, 1.42),
             (0.0012, 1.33), (0.00125, 1.25), (0.0013, 1.35), (0.00135, 1.28), (0.0014, 1.2),
             (0.00145, 1.3), (0.0015, 1.22), (0.00155, 1.15), (0.0016, 1.25), (0.00165, 1.18),
             (0.0017, 1.1), (0.00175, 1.2), (0.0018, 1.12), (0.00185, 1.05), (0.0019, 1.12),
             (0.00195, 1.08), (0.002, 1.0), (0.00205, 1.06), (0.0021, 1.02), (0.0022, 0.98)]
zig_upper_jul = [(0.0023, 1.02), (0.0024, 0.96), (0.0025, 1.04), (0.0026, 0.98), (0.0027, 1.06),
                 (0.0028, 1.0), (0.0029, 1.08), (0.003, 1.02), (0.0031, 1.1), (0.0032, 1.04),
                 (0.0033, 0.98), (0.0034, 1.05), (0.0035, 0.96), (0.0036, 1.02), (0.0037, 0.94),
                 (0.0038, 1.0), (0.0039, 0.92), (0.004, 0.98), (0.0041, 0.9), (0.0042, 0.96),
                 (0.0043, 0.88), (0.0044, 0.94), (0.0045, 0.86), (0.0046, 0.92), (0.0047, 0.85),
                 (0.0048, 0.9), (0.0049, 0.83), (0.005, 0.88), (0.0051, 0.82), (0.0052, 0.86),
                 (0.0054, 0.8), (0.0056, 0.85), (0.0058, 0.78), (0.006, 0.83), (0.0062, 0.76),
                 (0.0064, 0.8), (0.0066, 0.74), (0.0068, 0.79), (0.007, 0.73), (0.0072, 0.78),
                 (0.0074, 0.72), (0.0076, 0.77), (0.0078, 0.7), (0.008, 0.75), (0.0082, 0.68),
                 (0.0084, 0.73), (0.0086, 0.66), (0.0088, 0.71), (0.009, 0.65), (0.0092, 0.7),
                 (0.0094, 0.64), (0.0096, 0.69), (0.0098, 0.63)]
zig_lower = [(0.0003, 0.45), (0.00033, 0.55), (0.00036, 0.5), (0.0004, 0.62), (0.00043, 0.58),
             (0.00046, 0.7), (0.0005, 0.65), (0.00055, 0.78), (0.0006, 0.72), (0.00065, 0.85),
             (0.0007, 0.8), (0.00075, 0.9), (0.0008, 0.84), (0.00085, 0.95), (0.0009, 0.88),
             (0.00095, 1.0), (0.001, 0.92), (0.00105, 1.02), (0.0011, 0.95), (0.00115, 1.05),
             (0.0012, 0.98), (0.00125, 0.9), (0.0013, 1.0), (0.00135, 0.93), (0.0014, 0.85),
             (0.00145, 0.95), (0.0015, 0.88), (0.00155, 0.8), (0.0016, 0.9), (0.00165, 0.84),
             (0.0017, 0.78), (0.00175, 0.88), (0.0018, 0.82), (0.00185, 0.75), (0.0019, 0.85),
             (0.00195, 0.8), (0.002, 0.72), (0.00205, 0.82), (0.0021, 0.78), (0.0022, 0.85)]
zig_lower_jul = [(0.0023, 0.8), (0.0024, 0.88), (0.0025, 0.82), (0.0026, 0.9), (0.0027, 0.84),
                 (0.0028, 0.78), (0.0029, 0.86), (0.003, 0.8), (0.0031, 0.74), (0.0032, 0.82),
                 (0.0033, 0.76), (0.0034, 0.7), (0.0035, 0.78), (0.0036, 0.72), (0.0037, 0.66),
                 (0.0038, 0.74), (0.0039, 0.68), (0.004, 0.62), (0.0041, 0.7), (0.0042, 0.64),
                 (0.0043, 0.6), (0.0044, 0.68), (0.0045, 0.62), (0.0046, 0.58), (0.0047, 0.66),
                 (0.0048, 0.6), (0.0049, 0.64), (0.005, 0.7), (0.0052, 0.66), (0.0054, 0.72),
                 (0.0056, 0.68), (0.0058, 0.75), (0.006, 0.7), (0.0062, 0.78), (0.0064, 0.72),
                 (0.0066, 0.8), (0.0068, 0.74), (0.007, 0.82), (0.0072, 0.76), (0.0074, 0.84),
                 (0.0076, 0.78), (0.0078, 0.86), (0.008, 0.8), (0.0082, 0.88), (0.0084, 0.82),
                 (0.0086, 0.9), (0.0088, 0.84), (0.009, 0.92), (0.0092, 0.86), (0.0094, 0.94),
                 (0.0096, 0.88), (0.0098, 0.96), (0.01, 0.9), (0.0103, 0.98), (0.0106, 0.92),
                 (0.0109, 1.0), (0.0112, 0.94), (0.0115, 1.02), (0.0118, 0.96), (0.0121, 1.04),
                 (0.0124, 0.98), (0.0127, 1.05), (0.013, 1.0)]
columns = [(0.0006, 1.7), (0.00062, 1.55), (0.00064, 1.4), (0.00066, 1.25), (0.00068, 1.1),
           (0.0007, 0.95), (0.00072, 0.8), (0.00074, 0.7), (0.00076, 0.6), (0.00078, 0.55),
           (0.0008, 0.62), (0.00083, 0.75), (0.00086, 0.9), (0.0009, 1.05), (0.00094, 1.2),
           (0.00098, 1.35), (0.001, 1.5), (0.00103, 1.6), (0.00106, 1.45), (0.0011, 1.3),
           (0.00113, 1.15), (0.00116, 1.0), (0.0012, 0.85), (0.00123, 0.72), (0.00126, 0.65),
           (0.0013, 0.7), (0.00135, 0.8), (0.0014, 0.92), (0.00145, 1.05), (0.0015, 1.15),
           (0.00155, 1.25), (0.0016, 1.3), (0.00165, 1.35), (0.0017, 1.28), (0.00175, 1.2)]
columns_jul = [(0.0018, 1.28), (0.0019, 1.22), (0.002, 1.3), (0.0021, 1.24), (0.0022, 1.32),
               (0.0023, 1.26), (0.0024, 1.34), (0.0025, 1.28), (0.0026, 1.36), (0.0027, 1.3),
               (0.0028, 1.38), (0.0029, 1.32), (0.003, 1.4), (0.0031, 1.34), (0.0032, 1.42),
               (0.0033, 1.36), (0.0034, 1.44), (0.0035, 1.38), (0.0036, 1.45), (0.0037, 1.4),
               (0.0038, 1.46), (0.0039, 1.4), (0.004, 1.44), (0.0041, 1.38), (0.0042, 1.42),
               (0.0043, 1.36), (0.0044, 1.4), (0.0045, 1.34), (0.0046, 1.38), (0.0047, 1.32),
               (0.0048, 1.36), (0.0049, 1.3), (0.005, 1.34), (0.0052, 1.28), (0.0054, 1.32),
               (0.0056, 1.26), (0.0058, 1.3), (0.006, 1.24), (0.0062, 1.28), (0.0064, 1.22),
               (0.0066, 1.26), (0.0068, 1.2), (0.007, 1.24), (0.0072, 1.18), (0.0074, 1.22),
               (0.0076, 1.16), (0.0078, 1.2), (0.008, 1.14), (0.0082, 1.18), (0.0084, 1.12),
               (0.0086, 1.16), (0.0088, 1.1), (0.009, 1.14), (0.0092, 1.08), (0.0094, 1.12),
               (0.0096, 1.06), (0.0098, 1.1), (0.01, 1.05), (0.0102, 1.08), (0.0104, 1.03)]
band_mid = [(0.0015, 1.3), (0.0016, 1.2), (0.0017, 1.25), (0.0018, 1.15), (0.0019, 1.22),
            (0.002, 1.12), (0.0021, 1.18), (0.0022, 1.08), (0.0023, 1.15), (0.0024, 1.05),
            (0.0025, 1.12), (0.0026, 1.02), (0.0027, 1.1), (0.0028, 1.0), (0.0029, 1.08),
            (0.003, 0.98), (0.0031, 1.05), (0.0032, 0.96), (0.0033, 1.03), (0.0034, 0.94),
            (0.0035, 1.0), (0.0036, 0.92), (0.0037, 0.98), (0.0038, 0.9), (0.0039, 0.96),
            (0.004, 0.88), (0.0041, 0.94), (0.0042, 0.87), (0.0043, 0.92), (0.0044, 0.86),
            (0.0045, 0.9), (0.0046, 0.85), (0.0047, 0.89), (0.0048, 0.84), (0.0049, 0.88),
            (0.005, 0.83), (0.0051, 0.87), (0.0052, 0.84), (0.0053, 0.86), (0.0054, 0.85)]
band_mid_jul = [(0.0055, 0.82), (0.0056, 0.78), (0.0057, 0.8), (0.0058, 0.75), (0.0059, 0.77),
                (0.006, 0.72), (0.0061, 0.74), (0.0062, 0.7), (0.0063, 0.72), (0.0064, 0.68),
                (0.0065, 0.7), (0.0066, 0.66), (0.0067, 0.68), (0.0068, 0.64), (0.0069, 0.67),
                (0.007, 0.63), (0.0071, 0.66), (0.0072, 0.62), (0.0073, 0.65), (0.0074, 0.61),
                (0.0075, 0.64), (0.0076, 0.6), (0.0078, 0.64), (0.008, 0.6), (0.0082, 0.65),
                (0.0084, 0.61), (0.0086, 0.66), (0.0088, 0.62), (0.009, 0.67), (0.0092, 0.63),
                (0.0094, 0.68), (0.0096, 0.64), (0.0098, 0.69), (0.01, 0.65), (0.0102, 0.7),
                (0.0104, 0.66), (0.0106, 0.71), (0.0108, 0.67), (0.011, 0.72), (0.0112, 0.68),
                (0.0114, 0.73), (0.0116, 0.69), (0.0118, 0.74), (0.012, 0.7), (0.0122, 0.75),
                (0.0124, 0.71), (0.0126, 0.76), (0.0128, 0.72), (0.0129, 0.55), (0.013, 0.5),
                (0.0131, 0.62), (0.0133, 0.7)]
orange_top = [(0.0004, 1.6), (0.00045, 1.7), (0.0005, 1.62), (0.00055, 1.55), (0.0006, 1.65),
              (0.00065, 1.58), (0.0007, 1.5), (0.00075, 1.6), (0.0008, 1.52), (0.00085, 1.45),
              (0.0009, 1.55), (0.00095, 1.48), (0.001, 1.4), (0.00105, 1.5), (0.0011, 1.42),
              (0.00115, 1.35), (0.0012, 1.45), (0.00125, 1.38), (0.0013, 1.3), (0.00135, 1.4),
              (0.0014, 1.33), (0.00145, 1.25), (0.0015, 1.35), (0.00155, 1.28), (0.0016, 1.2),
              (0.00165, 1.3), (0.0017, 1.22), (0.00175, 1.15), (0.0018, 1.25), (0.00185, 1.18)]
orange_top_jul = [(0.0019, 1.25), (0.00195, 1.18), (0.002, 1.28), (0.00205, 1.2), (0.0021, 1.3),
                  (0.00215, 1.22), (0.0022, 1.32), (0.00225, 1.25), (0.0023, 1.35), (0.00235, 1.27),
                  (0.0024, 1.38), (0.00245, 1.3), (0.0025, 1.4), (0.0026, 1.32), (0.0027, 1.42),
                  (0.0028, 1.34), (0.0029, 1.44), (0.003, 1.36), (0.0031, 1.45), (0.0032, 1.38),
                  (0.0033, 1.46), (0.0034, 1.4), (0.0035, 1.48), (0.0036, 1.42), (0.0037, 1.5),
                  (0.0038, 1.44), (0.0039, 1.52), (0.004, 1.46), (0.0041, 1.54), (0.0042, 1.48),
                  (0.0043, 1.55), (0.0044, 1.5), (0.0045, 1.45), (0.0046, 1.4), (0.0047, 1.35),
                  (0.0048, 1.3), (0.005, 1.25), (0.0052, 1.2), (0.0054, 1.15), (0.0056, 1.1),
                  (0.0058, 1.05), (0.006, 1.0), (0.0062, 0.95)]
red_wave = [(0.0005, 0.7), (0.0006, 0.65), (0.0007, 0.75), (0.0008, 0.68), (0.0009, 0.8),
            (0.001, 0.72), (0.0011, 0.85), (0.0012, 0.78), (0.0013, 0.9), (0.0014, 0.82),
            (0.0015, 0.95), (0.0016, 0.86), (0.0017, 0.98), (0.0018, 0.9), (0.0019, 1.0),
            (0.002, 0.92), (0.0021, 1.02), (0.0022, 0.94), (0.0023, 1.0), (0.0024, 0.93),
            (0.0025, 0.98), (0.0026, 0.9), (0.0027, 0.95), (0.0028, 0.88), (0.0029, 0.93),
            (0.003, 0.86), (0.0031, 0.9), (0.0032, 0.84), (0.0033, 0.88), (0.0034, 0.83)]
red_cloud = [(0.0004, 1.2), (0.00045, 1.35), (0.0005, 1.25), (0.00055, 1.45), (0.0006, 1.3),
             (0.00065, 1.5), (0.0007, 1.35), (0.00075, 1.55), (0.0008, 1.4), (0.00085, 1.58),
             (0.0009, 1.42), (0.00095, 1.6), (0.001, 1.45), (0.00105, 1.55), (0.0011, 1.4),
             (0.00115, 1.5), (0.0012, 1.35), (0.00125, 1.45), (0.0013, 1.3), (0.00135, 1.4),
             (0.0014, 1.25), (0.00145, 1.35), (0.0015, 1.2), (0.00155, 1.3), (0.0016, 1.15),
             (0.00165, 1.25), (0.0017, 1.1), (0.00175, 1.2), (0.0018, 1.05), (0.00185, 1.15),
             (0.0019, 1.0), (0.00195, 1.1), (0.002, 0.95), (0.00205, 1.05), (0.0021, 0.92),
             (0.0022, 1.0)]
orange_cloud = [(0.0003, 0.9), (0.00033, 0.75), (0.00036, 0.6), (0.0004, 0.5), (0.00043, 0.42),
                (0.00046, 0.5), (0.0005, 0.62), (0.00053, 0.75), (0.00056, 0.88), (0.0006, 1.0),
                (0.00063, 0.9), (0.00066, 0.78), (0.0007, 0.65), (0.00073, 0.55), (0.00076, 0.48),
                (0.0008, 0.55), (0.00083, 0.68), (0.00086, 0.8), (0.0009, 0.92), (0.00093, 1.02),
                (0.00096, 0.9), (0.001, 0.78), (0.00103, 0.66), (0.00106, 0.58), (0.0011, 0.52),
                (0.00113, 0.6), (0.00116, 0.72), (0.0012, 0.85), (0.00125, 0.95), (0.0013, 1.05),
                (0.00135, 0.95), (0.0014, 0.85), (0.00145, 0.8), (0.0015, 0.88)]

# states that only show up in the July panel: (first day, points)
late_orange = [(0.00025, 0.5), (0.00026, 0.65), (0.00027, 0.8), (0.00028, 0.95), (0.0003, 1.1),
               (0.00032, 1.25), (0.00034, 1.4), (0.00036, 1.55), (0.00038, 1.7), (0.0004, 1.85),
               (0.00043, 1.97), (0.00046, 1.9), (0.0005, 1.8), (0.00055, 1.7), (0.0006, 1.6),
               (0.00065, 1.52), (0.0007, 1.45), (0.00075, 1.4), (0.0008, 1.35), (0.00085, 1.3),
               (0.0009, 1.28), (0.00095, 1.25), (0.001, 1.22), (0.0011, 1.2), (0.0012, 1.18),
               (0.0013, 1.16), (0.0014, 1.15), (0.0015, 1.14), (0.0016, 1.13), (0.0017, 1.12),
               (0.0018, 1.12), (0.0019, 1.11), (0.002, 1.1), (0.0021, 1.1), (0.0022, 1.1),
               (0.0023, 1.12), (0.0024, 1.14), (0.0025, 1.15), (0.0026, 1.16), (0.0027, 1.17),
               (0.0028, 1.18), (0.0029, 1.19), (0.003, 1.2), (0.0031, 1.22), (0.0032, 1.24),
               (0.0033, 1.25), (0.0034, 1.26), (0.0035, 1.27), (0.0036, 1.28), (0.0037, 1.29),
               (0.0038, 1.3), (0.0039, 1.31)]
late_red = [(0.0006, 1.95), (0.00065, 1.85), (0.0007, 1.75), (0.00075, 1.65), (0.0008, 1.55),
            (0.00085, 1.45), (0.0009, 1.35), (0.00095, 1.25), (0.001, 1.15), (0.00105, 1.05),
            (0.0011, 0.95), (0.00115, 0.88), (0.0012, 0.82), (0.00125, 0.78), (0.0013, 0.75),
            (0.00135, 0.72), (0.0014, 0.7), (0.0015, 0.72), (0.0016, 0.75), (0.0017, 0.78),
            (0.0018, 0.8), (0.0019, 0.83), (0.002, 0.86), (0.0021, 0.88), (0.0022, 0.9),
            (0.0023, 0.92), (0.0024, 0.94), (0.0025, 0.95), (0.0026, 0.96), (0.0028, 0.97),
            (0.003, 0.98), (0.0032, 0.99), (0.0034, 1.0), (0.0036, 1.01), (0.0038, 1.02),
            (0.004, 1.03), (0.0042, 1.02), (0.0044, 1.0), (0.0046, 0.98), (0.0048, 0.96),
            (0.005, 0.95), (0.0052, 0.97), (0.0054, 1.0), (0.0056, 1.03), (0.0058, 1.06),
            (0.006, 1.08), (0.0062, 1.1), (0.0064, 1.12), (0.0066, 1.14), (0.0068, 1.16),
            (0.007, 1.18), (0.0072, 1.2), (0.0074, 1.22), (0.0076, 1.2), (0.0078, 1.18),
            (0.008, 1.15), (0.0082, 1.12), (0.0084, 1.1), (0.0086, 1.08), (0.0088, 1.05),
            (0.009, 1.02), (0.0092, 1.0)]
late_yellow = [(0.0010, 1.2), (0.00105, 1.15), (0.0011, 1.1), (0.00115, 1.05), (0.0012, 1.0),
               (0.00125, 0.95), (0.0013, 0.9), (0.00135, 0.85), (0.0014, 0.8), (0.0015, 0.78),
               (0.0016, 0.76), (0.0017, 0.74), (0.0018, 0.72), (0.0019, 0.7), (0.002, 0.68),
               (0.0022, 0.66), (0.0024, 0.64), (0.0026, 0.62), (0.0028, 0.6), (0.0029, 0.58),
               (0.003, 0.62), (0.0031, 0.68), (0.0032, 0.74), (0.0033, 0.8), (0.0034, 0.86),
               (0.0035, 0.9), (0.0036, 0.95)]
late_glide = [(0.0025, 1.4), (0.0027, 1.35), (0.0029, 1.3), (0.0031, 1.26), (0.0033, 1.22),
              (0.0035, 1.2), (0.0037, 1.18), (0.0039, 1.16), (0.0041, 1.15), (0.0043, 1.14),
              (0.0045, 1.12), (0.0047, 1.1), (0.0049, 1.08), (0.0051, 1.07), (0.0053, 1.06),
              (0.0055, 1.05), (0.0057, 1.04), (0.006, 1.03), (0.0063, 1.02), (0.0066, 1.01),
              (0.0069, 1.0), (0.0072, 0.99), (0.0075, 0.98), (0.0078, 0.97), (0.0081, 0.96),
              (0.0084, 0.95), (0.0087, 0.94), (0.009, 0.93), (0.0093, 0.92), (0.0096, 0.92),
              (0.0099, 0.93), (0.0102, 0.94), (0.0105, 0.95), (0.0108, 0.96), (0.0111, 0.97),
              (0.0114, 0.98), (0.0117, 0.99)]
late_column = [(0.0003, 0.6), (0.00032, 0.75), (0.00034, 0.9), (0.00036, 1.05), (0.00038, 1.2),
               (0.0004, 1.35), (0.00042, 1.5), (0.00044, 1.65), (0.00046, 1.8), (0.00048, 1.9),
               (0.0005, 1.75), (0.00052, 1.6), (0.00054, 1.45), (0.00056, 1.3), (0.00058, 1.15),
               (0.0006, 1.0), (0.00062, 0.85), (0.00064, 0.75), (0.00066, 0.9), (0.00068, 1.05),
               (0.0007, 1.2), (0.00072, 1.35), (0.00074, 1.5), (0.00076, 1.6), (0.00078, 1.45),
               (0.0008, 1.3), (0.00082, 1.15), (0.00084, 1.0), (0.00086, 0.9), (0.00088, 0.8),
               (0.0009, 0.95), (0.00093, 1.1), (0.00096, 1.25), (0.001, 1.4), (0.00104, 1.3),
               (0.00108, 1.2), (0.00112, 1.1), (0.00116, 1.0), (0.0012, 0.92), (0.00125, 0.85),
               (0.0013, 0.95), (0.00135, 1.05), (0.0014, 1.15), (0.00145, 1.08), (0.0015, 1.0),
               (0.0016, 0.95), (0.0017, 1.02), (0.0018, 1.1), (0.0019, 1.05), (0.002, 1.0),
               (0.0021, 0.95), (0.0022, 1.0), (0.0023, 1.05), (0.0024, 1.0), (0.0025, 0.98),
               (0.0026, 1.02)]
cloud_a = [(0.006, 1.0), (0.0063, 1.08), (0.0066, 1.02), (0.0069, 1.1), (0.0072, 1.04),
           (0.0075, 1.12), (0.0078, 1.06), (0.0081, 1.14), (0.0084, 1.08), (0.0087, 1.16),
           (0.009, 1.1), (0.0093, 1.18), (0.0096, 1.12), (0.0099, 1.2), (0.0102, 1.14),
           (0.0105, 1.22), (0.0108, 1.16), (0.0111, 1.24), (0.0114, 1.18), (0.0117, 1.26),
           (0.012, 1.2), (0.0124, 1.27), (0.0128, 1.2), (0.0132, 1.26), (0.0136, 1.18),
           (0.014, 1.24), (0.0144, 1.16), (0.0148, 1.22), (0.0152, 1.14), (0.0156, 1.2),
           (0.016, 1.12), (0.0164, 1.17), (0.0168, 1.1), (0.0172, 1.15), (0.0176, 1.08),
           (0.018, 1.12), (0.0184, 1.05), (0.0188, 1.1), (0.0192, 1.03), (0.0196, 1.07),
           (0.02, 1.0), (0.0204, 1.04)]
cloud_b = [(0.008, 0.92), (0.0083, 0.98), (0.0086, 0.94), (0.0089, 1.0), (0.0092, 0.96),
           (0.0095, 1.02), (0.0098, 0.97), (0.0101, 1.04), (0.0104, 0.99), (0.0107, 1.06),
           (0.011, 1.0), (0.0113, 1.08), (0.0116, 1.02), (0.0119, 1.1), (0.0122, 1.04),
           (0.0125, 1.12), (0.0128, 1.05), (0.0131, 1.1), (0.0134, 1.03), (0.0137, 1.08),
           (0.014, 1.01), (0.0143, 1.06), (0.0146, 0.99), (0.0149, 1.05), (0.0152, 0.98),
           (0.0155, 1.04), (0.0158, 0.97), (0.0161, 1.02), (0.0164, 0.96), (0.0167, 1.01),
           (0.017, 0.95), (0.0173, 1.0), (0.0176, 0.94), (0.0179, 0.99), (0.0182, 0.93),
           (0.0185, 0.98), (0.0188, 0.92)]
cloud_c = [(0.012, 0.95), (0.0123, 1.0), (0.0126, 0.97), (0.0129, 1.05), (0.0132, 1.0),
           (0.0135, 1.1), (0.0137, 1.22), (0.0139, 1.3), (0.014, 1.36), (0.0142, 1.25),
           (0.0145, 1.15), (0.0148, 1.08), (0.0151, 1.12), (0.0154, 1.05), (0.0157, 1.1),
           (0.016, 1.02), (0.0163, 1.08), (0.0166, 1.0), (0.0169, 1.06), (0.0172, 1.12),
           (0.0175, 1.25), (0.0177, 1.2), (0.018, 1.1), (0.0183, 1.0), (0.0186, 0.95),
           (0.0189, 1.0), (0.0192, 0.96), (0.0195, 1.02), (0.0198, 0.98), (0.0201, 1.05),
           (0.0204, 1.0), (0.0206, 1.17)]

TRACKS = [
    (102, purple_flat, []), (109, purple_mid, []), (104, purple_low, []), (114, purple_hump, []),
    (110, purple_zig, []), (105, purple_upper, []),
    (137, rising, rising_jul), (137, u_dip, u_dip_jul), (137, new_york, new_york_jul),
    (136, peak_red, peak_red_jul), (131, deep_dip, []), (125, red_wave, []),
    (137, tall_red, tall_red_jul), (137, columns, columns_jul), (137, red_cloud, []),
    (137, bump, bump_jul), (137, peak_orange, peak_orange_jul), (137, orange_top, orange_top_jul),
    (137, zig_lower, zig_lower_jul), (137, orange_dive, []), (137, high_slide, high_slide_jul),
    (137, orange_cloud, []), (137, late_climb, []), (137, orange_low, orange_low_jul),
    (137, zig_upper, zig_upper_jul), (137, band_mid, band_mid_jul),
    (137, yellow_low, yellow_low_jul), (137, yellow_spike, yellow_spike_jul),
    (137, yellow_top, yellow_top_jul), (137, yellow_young, []),
]
JULY_ONLY = [(160, late_orange), (150, late_red), (156, late_column), (185, late_yellow),
             (175, late_glide), (170, cloud_a), (175, cloud_b), (180, cloud_c)]
# the earliest days sit on the c=0 axis, drawn last so they stay visible
EARLY = [(89, band_a), (93, band_b), (97, band_c), (101, band_d), (100, band_e),
         (96, band_f), (91, early_f), (95, early_g), (99, early_h), (101, early_i)]

# fitted lines: value at c=0 and at right edge of the axis
fit_may_labels = ["λ=0.06", "Missouri$^\\mathregular{a}$", "Connecticut$^\\mathregular{a}$",
                  "New York$^\\mathregular{a}$"]
fit_may_start = [1.088, 1.088, 1.088, 1.088]
fit_may_end = [0.733, 0.589, 0.958, 0.833]
fit_may_colors = ["#009e73", "#56b4e9", "#e69f00", "#f0e442"]
fit_may_widths = [2.0, 1.0, 1.0, 1.0]

fit_jul_labels = ["λ=0.08", "Dashboard"]
fit_jul_start = [1.077, 1.077]
fit_jul_end = [0.659, 0.886]
fit_jul_colors = ["#009e73", "#56b4e9"]
fit_jul_widths = [2.0, 1.0]

CMAP = plt.get_cmap("gnuplot")
FS = 10


def draw_track(ax, pts, days, norm):
    pts = np.asarray(pts, dtype=float)
    cols = CMAP(norm(days))
    if len(pts) > 1:
        segs = np.stack([pts[:-1], pts[1:]], axis=1)
        ax.add_collection(LineCollection(segs, colors=cols[1:], linewidths=0.9, zorder=2))
    ax.scatter(pts[:, 0], pts[:, 1], s=21, facecolors="none", edgecolors=cols,
               linewidths=0.9, zorder=2)


def style_axes(ax, xmax, xticks, xticklabels):
    ax.set_xlim(0, xmax)
    ax.set_ylim(0, 2)
    ax.set_xticks(xticks)
    ax.set_xticklabels(xticklabels)
    ax.set_yticks([0, 0.5, 1, 1.5, 2])
    ax.set_yticklabels(["0", "0.5", "1", "1.5", "2"])
    ax.tick_params(direction="in", top=True, right=True, length=4, width=0.8,
                   labelsize=FS, pad=5)
    for s in ax.spines.values():
        s.set_linewidth(1.0)
    ax.set_xlabel("c(t)", fontsize=FS, labelpad=4)
    ax.set_ylabel("R$_\\mathregular{t}$ / <R$_\\mathregular{0}$(t)>", fontsize=FS, labelpad=9)


def add_colorbar(fig, rect, norm, ticks):
    cax = fig.add_axes(rect)
    cb = fig.colorbar(ScalarMappable(norm=norm, cmap=CMAP), cax=cax)
    cb.set_ticks(ticks)
    cb.outline.set_linewidth(1.0)
    cax.tick_params(direction="in", left=True, right=True, length=4, width=0.8,
                    labelsize=FS, pad=6)
    cb.set_label("days since Jan 1st, 2020", fontsize=FS, labelpad=4)


fig = plt.figure(figsize=(11.11, 3.83), dpi=100)

# ---- left panel: until 23 May --------------------------------------------
ax1 = fig.add_axes([0.0657, 0.120, 0.351, 0.789])
norm1 = Normalize(75, 137)
for last, may, jul in TRACKS:
    days = np.arange(last - len(may) + 1, last + 1)
    draw_track(ax1, may, days, norm1)
for last, pts in EARLY:
    draw_track(ax1, pts, np.arange(last - len(pts) + 1, last + 1), norm1)
for lab, y0, y1, col, lw in zip(fit_may_labels, fit_may_start, fit_may_end,
                                fit_may_colors, fit_may_widths):
    ax1.plot([0, 0.02], [y0, y1], color=col, lw=lw, zorder=3, label=lab)
style_axes(ax1, 0.02, [0, 0.005, 0.01, 0.015, 0.02], ["0", "0.005", "0.01", "0.015", "0.02"])
ax1.set_title("USA until 23th May 2020", fontsize=FS, pad=11)
ax1.legend(loc="upper right", frameon=False, markerfirst=False, fontsize=FS,
           handlelength=2.8, handletextpad=0.7, labelspacing=0.0, borderaxespad=0.3)
add_colorbar(fig, [0.4257, 0.120, 0.018, 0.789], norm1, [80, 90, 100, 110, 120, 130])

# ---- right panel: until 30 Jul -------------------------------------------
ax2 = fig.add_axes([0.5725, 0.120, 0.3525, 0.789])
norm2 = Normalize(100, 200)
for last, may, jul in TRACKS:
    pts = may + jul
    days = np.arange(last - len(may) + 1, last - len(may) + 1 + len(pts))
    draw_track(ax2, pts, days, norm2)
for first, pts in JULY_ONLY:
    draw_track(ax2, pts, np.arange(first, first + len(pts)), norm2)
for last, pts in EARLY:
    draw_track(ax2, pts, np.arange(last - len(pts) + 1, last + 1), norm2)
for lab, y0, y1, col, lw in zip(fit_jul_labels, fit_jul_start, fit_jul_end,
                                fit_jul_colors, fit_jul_widths):
    ax2.plot([0, 0.03], [y0, y1], color=col, lw=lw, zorder=3, label=lab)
style_axes(ax2, 0.03, [0, 0.005, 0.01, 0.015, 0.02, 0.025, 0.03],
           ["0", "0.005", "0.01", "0.015", "0.02", "0.025", "0.03"])
ax2.set_title("USA until 30th Jul 2020", fontsize=FS, pad=11)
ax2.legend(loc="upper right", frameon=False, markerfirst=False, fontsize=FS,
           handlelength=2.8, handletextpad=0.7, labelspacing=0.0, borderaxespad=0.3)
add_colorbar(fig, [0.9325, 0.120, 0.018, 0.789], norm2, [100, 120, 140, 160, 180, 200])

fig.savefig("out.png", dpi=100)
